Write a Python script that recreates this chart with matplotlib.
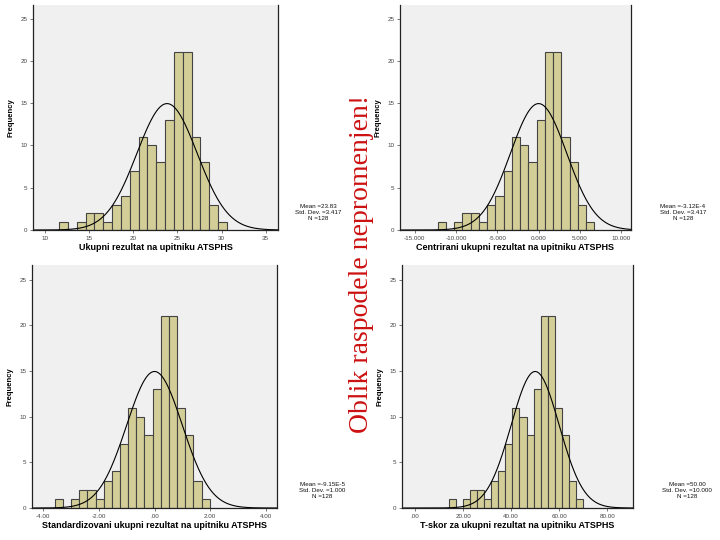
import numpy as np
import matplotlib
matplotlib.use('Agg')
import matplotlib.pyplot as plt

# histogram counts (same distribution shown in all four panels)
counts = [1, 0, 1, 2, 2, 1, 3, 4, 7, 11, 10, 8, 13, 21, 21, 11, 8, 3, 1]
first_edge = 11.6
bin_width = 1.0
mean_raw = 23.83
sd_raw = 3.417
n_total = 128

titles = ['Ukupni rezultat na upitniku ATSPHS',
          'Centrirani ukupni rezultat na upitniku ATSPHS',
          'Standardizovani ukupni rezultat na upitniku ATSPHS',
          'T-skor za ukupni rezultat na upitniku ATSPHS']
stats = [['Mean =23.83', 'Std. Dev. =3.417', 'N =128'],
         ['Mean =-3.12E-4', 'Std. Dev. =3.417', 'N =128'],
         ['Mean =-9.15E-5', 'Std. Dev. =1.000', 'N =128'],
         ['Mean =50.00', 'Std. Dev. =10.000', 'N =128']]
xticks = [[10, 15, 20, 25, 30, 35],
          [-15, -10, -5, 0, 5, 10],
          [-4, -2, 0, 2, 4],
          [0, 20, 40, 60, 80]]
xticklabels = [['10', '15', '20', '25', '30', '35'],
               ['-15.000', '-10.000', '-5.000', '0.000', '5.000', '10.000'],
               ['-4.00', '-2.00', '.00', '2.00', '4.00'],
               ['.00', '20.00', '40.00', '60.00', '80.00']]
xlims = [(8.64, 36.4), (-16.8, 11.2), (-4.4, 4.4), (-5.4, 90.7)]
yticks = [0, 5, 10, 15, 20, 25]

# transforms raw score -> panel scale: (offset, scale)
transforms = [(0.0, 1.0),
              (-mean_raw, 1.0),
              (-mean_raw / sd_raw, 1.0 / sd_raw),
              (50 - 10 * mean_raw / sd_raw, 10.0 / sd_raw)]

# axes boxes in pixels: left, right, top, bottom
boxes = [(33, 278, 5, 230), (400, 631, 5, 230),
         (32, 277, 265, 508), (402, 633, 265, 508)]
stat_pos = [(318, 212), (683, 212), (322, 490), (687, 490)]

W, H = 720, 540
fig = plt.figure(figsize=(7.2, 5.4), dpi=100)
fig.patch.set_facecolor('white')
font = 'Liberation Sans'

edges_raw = first_edge + bin_width * np.arange(len(counts) + 1)

for i in range(4):
    l, r, t, b = boxes[i]
    ax = fig.add_axes([l / W, 1 - b / H, (r - l) / W, (b - t) / H])
    ax.set_facecolor('#f0f0f0')
    off, sc = transforms[i]
    edges = off + sc * edges_raw
    ax.bar(edges[:-1], counts, width=np.diff(edges), align='edge',
           color='#d3ce97', edgecolor='#444444', linewidth=0.8)

    xs = np.linspace(xlims[i][0], xlims[i][1], 400)
    mu = off + sc * mean_raw
    sd = sc * sd_raw
    w = sc * bin_width
    ys = n_total * w / (sd * np.sqrt(2 * np.pi)) * np.exp(-0.5 * ((xs - mu) / sd) ** 2)
    ax.plot(xs, ys, color='black', linewidth=0.8)

    ax.set_xlim(xlims[i])
    ax.set_ylim(0, 26.6)
    ax.set_xticks(xticks[i])
    ax.set_xticklabels(xticklabels[i])
    ax.set_yticks(yticks)
    ax.tick_params(labelsize=4.5, colors='#444444', length=2, width=0.5, pad=2)
    for lab in ax.get_xticklabels() + ax.get_yticklabels():
        lab.set_family(font)
    ax.spines['top'].set_visible(False)
    for s in ['left', 'bottom', 'right']:
        ax.spines[s].set_color('#222222')
        ax.spines[s].set_linewidth(0.9)
    ax.set_xlabel(titles[i], fontsize=6.5, fontweight='bold', family=font, labelpad=2)
    ax.set_ylabel('Frequency', fontsize=5.5, fontweight='bold', family=font, labelpad=4)

    sx, sy = stat_pos[i]
    fig.text(sx / W, 1 - sy / H, '\n'.join(stats[i]), fontsize=4.5, family=font,
             ha='center', va='center', linespacing=1.25, color='#111111')

fig.text(361 / W, 1 - 264 / H, 'Oblik raspodele nepromenjen!', rotation=90,
         fontsize=20, family='Liberation Serif', color='#cc1111',
         ha='center', va='center')

fig.savefig('out.png', dpi=100)
